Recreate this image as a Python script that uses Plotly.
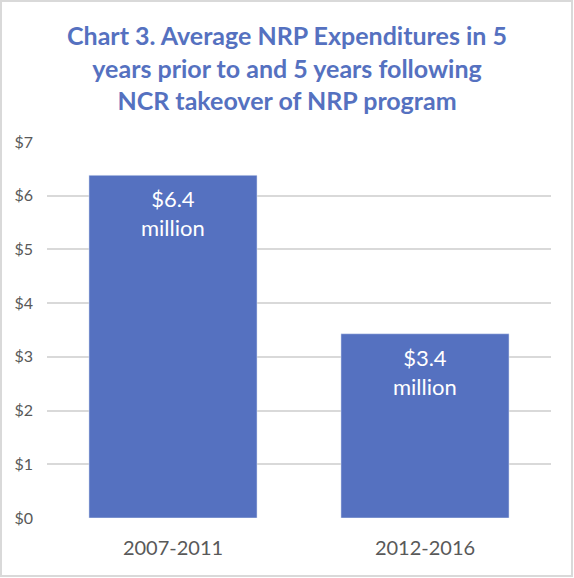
import plotly.graph_objects as go

periods = ["2007-2011", "2012-2016"]
spend = [6.38, 3.43]
labels = ["$6.4<br>million", "$3.4<br>million"]
yticks = [0, 1, 2, 3, 4, 5, 6, 7]
title = "Chart 3. Average NRP Expenditures in 5<br>years prior to and 5 years following<br>NCR takeover of NRP program"

W, H = 574, 578
ml, mr, mt, mb = 47, 23, 142, 60
pw, ph = W - ml - mr, H - mt - mb

blue = "#5571C0"
grey = "#595959"
font = "Lato"

fig = go.Figure(go.Bar(x=periods, y=spend, marker_color=blue, width=0.667,
                       hoverinfo="skip"))

# value labels sitting inside the top of each bar
for p, v, t in zip(periods, spend, labels):
    fig.add_annotation(x=p, y=v, text=t, showarrow=False, yanchor="top",
                       yshift=-8, font=dict(family=font, size=22, color="white"))

# title as a paper annotation so it doesn't push the plot around
fig.add_annotation(text=title, xref="paper", yref="paper", showarrow=False,
                   x=(287 - ml) / pw, y=(ph + mt - 18) / ph, xanchor="center", yanchor="top",
                   font=dict(family=font, size=25, color=blue, weight="bold"))

# thin grey frame around the whole chart
fig.add_shape(type="rect", xref="paper", yref="paper", layer="below",
              x0=(1 - ml) / pw, x1=(W - 2 - ml) / pw,
              y0=-(mb - 2) / ph, y1=(ph + mt - 1) / ph,
              line=dict(color="#D9D9D9", width=2))

fig.update_layout(
    width=W, height=H,
    margin=dict(l=ml, r=mr, t=mt, b=mb),
    paper_bgcolor="white", plot_bgcolor="white",
    showlegend=False,
    xaxis=dict(showline=False, ticks="", automargin=False, ticklabelstandoff=16,
               tickfont=dict(family=font, size=20, color=grey)),
    yaxis=dict(range=[0, 7], tickvals=yticks, ticktext=[f"${v}" for v in yticks],
               showgrid=True, gridcolor="#D9D9D9", gridwidth=1.5, zeroline=False,
               ticks="", ticklabelstandoff=13, automargin=False,
               tickfont=dict(family=font, size=16, color=grey)),
)

# page body has a default 8px margin, drop it so the chart sits at 0,0
fig.write_html("out.html", config={"displayModeBar": False},
               post_script="document.body.style.margin='0';")
